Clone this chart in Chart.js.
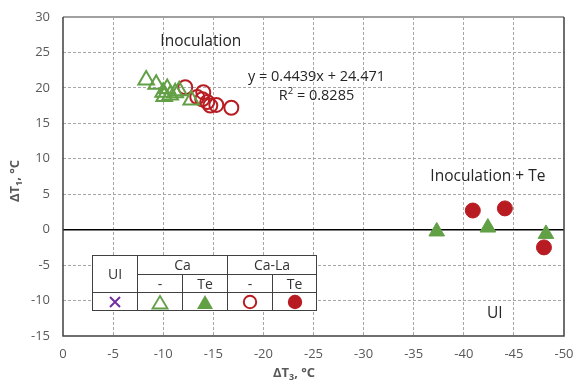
<!DOCTYPE html>
<html>
<head>
<meta charset="utf-8">
<script src="https://cdn.jsdelivr.net/npm/chart.js@4.4.1/dist/chart.umd.min.js"></script>
<style>
  html, body { margin: 0; padding: 0; background: #fff; }
  #wrap { position: relative; width: 575px; height: 385px; }
  #legendTable {
    position: absolute; left: 92px; top: 255px;
    width: 224px; height: 56px;
    border-collapse: collapse; table-layout: fixed; background: #fff;
    font-family: "Open Sans", sans-serif; font-size: 14px; color: #333;
  }
  #legendTable td { border: 1px solid #404040; text-align: center; padding: 0; line-height: 16px; }
  #legendTable svg { display: block; margin: 0 auto; }
</style>
</head>
<body>
<div id="wrap">
  <canvas id="chart" width="575" height="385"></canvas>
  <table id="legendTable">
    <colgroup><col style="width:45px"><col style="width:45px"><col style="width:45px"><col style="width:45px"><col style="width:44px"></colgroup>
    <tr style="height:19px"><td rowspan="2">UI</td><td colspan="2">Ca</td><td colspan="2">Ca-La</td></tr>
    <tr style="height:18px"><td>-</td><td>Te</td><td>-</td><td>Te</td></tr>
    <tr style="height:18px">
      <td><svg width="14" height="14"><path d="M2 2 L12 12 M12 2 L2 12" stroke="#7030a0" stroke-width="2"/></svg></td>
      <td><svg width="18" height="16"><polygon points="9,2 16.5,14.5 1.5,14.5" fill="none" stroke="#62a046" stroke-width="1.8"/></svg></td>
      <td><svg width="18" height="16"><polygon points="9,1 17,15 1,15" fill="#62a046"/></svg></td>
      <td><svg width="16" height="16"><circle cx="8" cy="8" r="6.2" fill="none" stroke="#b81c22" stroke-width="2"/></svg></td>
      <td><svg width="16" height="16"><circle cx="8" cy="8" r="7.2" fill="#b81c22"/></svg></td>
    </tr>
  </table>
</div>
<script>
const GREEN = '#62a046';
const RED = '#b81c22';

// Ca inoculation, no Te
const caX = [-8.3, -9.3, -10.0, -10.4, -10.7, -11.2, -11.6, -10.1, -12.8];
const caY = [21.1, 20.5, 19.4, 19.9, 19.0, 19.3, 19.6, 18.8, 18.3];
// Ca inoculation + Te
const caTeX = [-37.3, -42.4, -48.2];
const caTeY = [-0.25, 0.3, -0.6];
// Ca-La inoculation, no Te
const caLaX = [-12.2, -13.4, -14.0, -13.9, -14.4, -14.7, -15.3, -16.8];
const caLaY = [20.1, 18.7, 19.4, 18.4, 18.0, 17.5, 17.6, 17.2];
// Ca-La inoculation + Te
const caLaTeX = [-40.9, -44.1, -48.0];
const caLaTeY = [2.7, 3.0, -2.5];

const xTicks = [0, -5, -10, -15, -20, -25, -30, -35, -40, -45, -50];
const yTicks = [-15, -10, -5, 0, 5, 10, 15, 20, 25, 30];

// linear fit of the inoculated (no Te) group
const fitSlope = 0.4439;
const fitIntercept = 24.471;
const fitR2 = 0.8285;

const pts = (xs, ys) => xs.map((x, i) => ({ x: x, y: ys[i] }));

const FONT = '"Open Sans", sans-serif';
const GRID = '#a6a6a6';

// text placed inside the plot, anchored in data units
const notesPlugin = {
  id: 'notes',
  afterDatasetsDraw(chart) {
    const { ctx, scales: { x, y } } = chart;
    const notes = [
      { text: 'Inoculation', x: -13.75, y: 26.6, size: 15.5 },
      { text: 'y = ' + fitSlope + 'x + ' + fitIntercept, x: -25.3, y: 21.6, size: 14.5 },
      { text: 'Inoculation + Te', x: -42.4, y: 7.55, size: 15.5 },
      { text: 'UI', x: -43.1, y: -11.8, size: 15.5 }
    ];
    ctx.save();
    ctx.fillStyle = '#262626';
    ctx.textAlign = 'center';
    ctx.textBaseline = 'middle';
    notes.forEach(n => {
      ctx.font = n.size + 'px ' + FONT;
      ctx.fillText(n.text, x.getPixelForValue(n.x), y.getPixelForValue(n.y));
    });
    // R² line with a superscript 2
    ctx.font = '14.5px ' + FONT;
    const cx = x.getPixelForValue(-25.3), cy = y.getPixelForValue(18.9);
    const a = 'R', b = ' = ' + fitR2;
    const wa = ctx.measureText(a).width, wb = ctx.measureText(b).width;
    ctx.font = '9.5px ' + FONT;
    const ws = ctx.measureText('2').width;
    let left = cx - (wa + ws + wb) / 2;
    ctx.textAlign = 'left';
    ctx.font = '14.5px ' + FONT;
    ctx.fillText(a, left, cy);
    ctx.font = '9.5px ' + FONT;
    ctx.fillText('2', left + wa, cy - 4);
    ctx.font = '14.5px ' + FONT;
    ctx.fillText(b, left + wa + ws, cy);
    ctx.restore();
  }
};

// plot frame: dark on three sides, grey on top
const framePlugin = {
  id: 'frame',
  beforeDatasetsDraw(chart) {
    const { ctx, chartArea: a } = chart;
    ctx.save();
    ctx.strokeStyle = '#a0a0a0';
    ctx.lineWidth = 2;
    ctx.beginPath();
    ctx.moveTo(a.left, a.top);
    ctx.lineTo(a.right, a.top);
    ctx.stroke();
    ctx.strokeStyle = '#404040';
    ctx.lineWidth = 1.5;
    ctx.beginPath();
    ctx.moveTo(a.left, a.top);
    ctx.lineTo(a.left, a.bottom);
    ctx.lineTo(a.right, a.bottom);
    ctx.lineTo(a.right, a.top);
    ctx.stroke();
    ctx.restore();
  }
};

// axis titles with subscript digits
function drawSubTitle(ctx, base, sub, rest, cx, cy) {
  ctx.font = 'bold 13px ' + FONT;
  const w1 = ctx.measureText(base).width, w3 = ctx.measureText(rest).width;
  ctx.font = 'bold 9px ' + FONT;
  const w2 = ctx.measureText(sub).width;
  let left = cx - (w1 + w2 + w3) / 2;
  ctx.textAlign = 'left';
  ctx.textBaseline = 'middle';
  ctx.font = 'bold 13px ' + FONT;
  ctx.fillText(base, left, cy);
  ctx.font = 'bold 9px ' + FONT;
  ctx.fillText(sub, left + w1, cy + 4);
  ctx.font = 'bold 13px ' + FONT;
  ctx.fillText(rest, left + w1 + w2, cy);
}

const titlesPlugin = {
  id: 'titles',
  afterDraw(chart) {
    const { ctx } = chart;
    ctx.save();
    ctx.fillStyle = '#595959';
    drawSubTitle(ctx, 'ΔT', '3', ', °C', 294, 373);
    ctx.translate(15, 181);
    ctx.rotate(-Math.PI / 2);
    drawSubTitle(ctx, 'ΔT', '1', ', °C', 0, 0);
    ctx.restore();
  }
};

new Chart(document.getElementById('chart'), {
  type: 'scatter',
  data: {
    datasets: [
      {
        label: 'Ca -', data: pts(caX, caY),
        pointStyle: 'triangle', pointRadius: 9, borderWidth: 2,
        borderColor: GREEN, backgroundColor: 'rgba(255,255,255,0)'
      },
      {
        label: 'Ca-La -', data: pts(caLaX, caLaY),
        pointStyle: 'circle', pointRadius: 7, borderWidth: 2,
        borderColor: RED, backgroundColor: 'rgba(255,255,255,0)'
      },
      {
        label: 'Ca Te', data: pts(caTeX, caTeY),
        pointStyle: 'triangle', pointRadius: 9, borderWidth: 1,
        borderColor: GREEN, backgroundColor: GREEN
      },
      {
        label: 'Ca-La Te', data: pts(caLaTeX, caLaTeY),
        pointStyle: 'circle', pointRadius: 7.5, borderWidth: 1,
        borderColor: RED, backgroundColor: RED
      }
    ]
  },
  options: {
    responsive: false,
    animation: false,
    layout: { padding: { top: 17, right: 8, left: 0, bottom: 0 } },
    plugins: { legend: { display: false }, tooltip: { enabled: false } },
    scales: {
      x: {
        type: 'linear', min: -50, max: 0, reverse: true,
        afterBuildTicks: s => { s.ticks = xTicks.map(v => ({ value: v })); },
        afterFit: s => { s.height = 49; s.paddingLeft = 0; s.paddingRight = 0; },
        ticks: { padding: 10, color: '#595959', font: { family: FONT, size: 13 } },
        grid: {
          drawTicks: false,
          color: c => (c.tick && (c.tick.value === 0 || c.tick.value === -50)) ? 'rgba(0,0,0,0)' : GRID,
          lineWidth: 1
        },
        border: { display: false, dash: [3, 2] }
      },
      y: {
        type: 'linear', min: -15, max: 30,
        afterBuildTicks: s => { s.ticks = yTicks.map(v => ({ value: v })); },
        afterFit: s => { s.width = 63; s.paddingTop = 0; s.paddingBottom = 0; },
        ticks: { padding: 13, color: '#595959', font: { family: FONT, size: 13 } },
        grid: {
          drawTicks: false,
          color: c => {
            if (!c.tick) return GRID;
            if (c.tick.value === 0) return '#000';
            if (c.tick.value === 30 || c.tick.value === -15) return 'rgba(0,0,0,0)';
            return GRID;
          },
          lineWidth: c => (c.tick && c.tick.value === 0) ? 1.5 : 1
        },
        border: {
          display: false,
          dash: c => (c.tick && c.tick.value === 0) ? [] : [3, 2]
        }
      }
    }
  },
  plugins: [framePlugin, notesPlugin, titlesPlugin]
});
</script>
</body>
</html>
